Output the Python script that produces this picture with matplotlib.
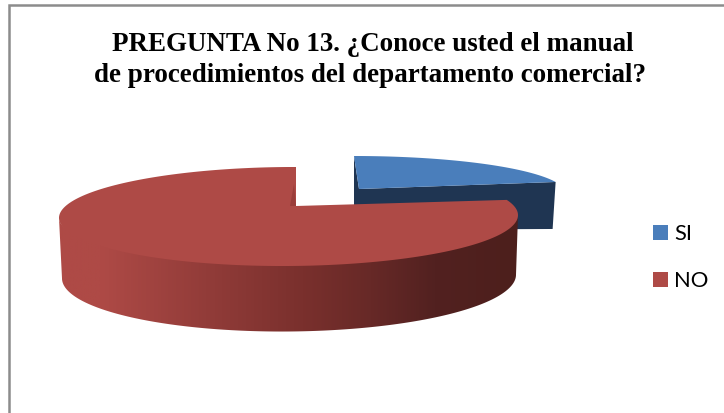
import numpy as np
import matplotlib
matplotlib.use("Agg")
import matplotlib.pyplot as plt
from matplotlib.colors import LinearSegmentedColormap
from matplotlib.patches import Polygon, Rectangle

# ---- chart data ----
categories = ["SI", "NO"]
values = [20, 80]
title = "PREGUNTA No 13. ¿Conoce usted el manual\nde procedimientos del departamento comercial?"
# --------------------

BLUE = "#4a7ebb"
BLUE_DARK = "#1f3552"
RED = "#ae4a46"
RED_FOLD = "#9a3d3a"
wall_cmap = LinearSegmentedColormap.from_list(
    "wall", [(0, RED), (0.09, RED), (0.32, "#923c39"), (0.53, "#7a302d"),
             (0.68, "#672927"), (0.82, "#522120"), (1, "#4d1f1c")])


def arc(cx, cy, rx, ry, start, end, tilt=0.0):
    # angles in degrees, clockwise from 12 o'clock, y grows downwards
    t = np.radians(np.linspace(start, end, 200))
    x = cx + rx * np.sin(t)
    y = cy - ry * np.cos(t) + tilt * (x - cx)
    return np.column_stack([x, y])


fig = plt.figure(figsize=(7.24, 4.14), dpi=100)
ax = fig.add_axes([0, 0, 1, 1])
ax.set_xlim(0, 724)
ax.set_ylim(414, 0)
ax.axis("off")

# chart frame, only the left and top edges are on the canvas
ax.plot([9, 9, 724], [414, 5.5, 5.5], color="#8c8c8c", lw=1.8, solid_joinstyle="miter")

for line, x, base in zip(title.split("\n"), [372.5, 370.5], [51, 82]):
    ax.text(x, base, line, ha="center", va="baseline", family="Liberation Serif",
            weight="bold", fontsize=19.45, color="black")

split = 360 * values[0] / sum(values)

# SI slice, pulled out to the upper right
si_apex = np.array([359, 190])
si_arc = arc(354, 194.6, 212, 37.6, 0, split)
si_depth = 47
corner = si_arc[-1]
wall = [si_arc[0], si_apex, corner, corner + [-3, si_depth], [si_arc[0][0], corner[1] + si_depth + 1]]
ax.add_patch(Polygon(wall, closed=True, fc=BLUE_DARK, ec="none", zorder=2))
ax.add_patch(Polygon(np.vstack([si_arc, si_apex]), closed=True, fc=BLUE, ec="none", zorder=3))

# NO slice, side wall first with a horizontal shade clipped to its outline;
# its upper edge runs under the top face so no seam shows between them
top_c = (288.5, 217.5, 229.5, 49.5)
under_c = (288.5, 217.5, 229.5, 45)
bottom_c = (289, 277.5, 227, 55)
outline = np.vstack([arc(*under_c, 90, 270, tilt=-0.006), arc(*bottom_c, 270, 90, tilt=-0.008)])
clip = Polygon(outline, closed=True, transform=ax.transData, fc="none", ec="none")
ax.add_patch(clip)
shade = np.linspace(0, 1, 512).reshape(1, -1)
im = ax.imshow(shade, cmap=wall_cmap, extent=(59, 518, 340, 200), aspect="auto", zorder=4)
im.set_clip_path(clip)

no_apex = np.array([296, 207])
no_arc = arc(*top_c, split, 360, tilt=-0.006)
ax.add_patch(Polygon(np.vstack([no_arc, [no_apex[0], no_arc[-1][1]], no_apex]), closed=True,
                     fc=RED, ec="none", zorder=5))
ax.add_patch(Polygon([no_apex, no_apex + [-6, 0], no_apex + [-2, -22]], closed=True,
                     fc=RED_FOLD, ec="none", zorder=6))

ax.set_xlim(0, 724)
ax.set_ylim(414, 0)

# legend
for name, color, y in zip(categories, [BLUE, RED], [233, 280]):
    ax.add_patch(Rectangle((653, y - 7), 15, 15, fc=color, ec="none", zorder=6))
    ax.text(674, y + 1.5, name, family="Lato", fontsize=15.8, va="center", ha="left", color="black")

fig.savefig("out.png", dpi=100)
